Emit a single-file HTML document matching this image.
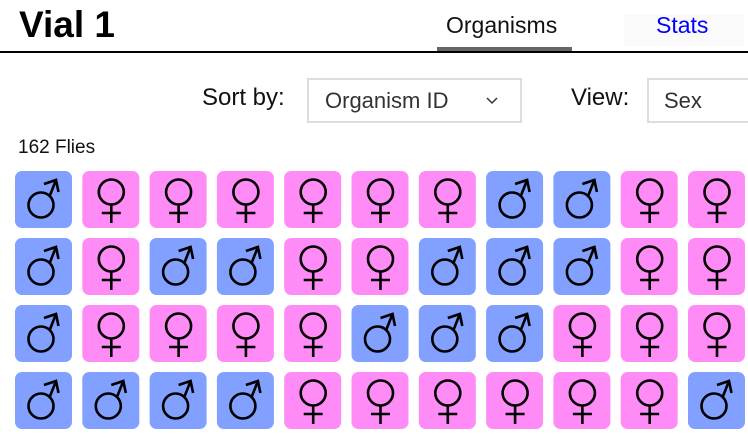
<!DOCTYPE html>
<html><head><meta charset="utf-8"><style>
body{margin:0;width:748px;height:438px;background:#fff;position:relative;overflow:hidden;font-family:"Liberation Sans",sans-serif}
.a{position:absolute;white-space:nowrap}
</style></head><body>
<div class="a" style="left:19px;top:4px;font-size:37px;font-weight:bold;color:#000">Vial 1</div>
<div class="a" style="left:624px;top:14px;width:120px;height:32px;background:#fafafa"></div>
<div class="a" style="left:446px;top:12px;font-size:23px;color:#111">Organisms</div>
<div class="a" style="left:656px;top:12px;font-size:23px;color:#0000ff">Stats</div>
<div class="a" style="left:437px;top:47px;width:135px;height:5px;background:#666"></div>
<div class="a" style="left:0;top:51px;width:748px;height:2px;background:#000"></div>
<div class="a" style="left:202px;top:84px;font-size:24px;color:#111">Sort by:</div>
<div class="a" style="left:307px;top:78px;width:211px;height:41px;border:2px solid #ddd"></div>
<div class="a" style="left:325px;top:88px;font-size:22px;color:#333">Organism ID</div>
<svg class="a" style="left:486px;top:96px" width="14" height="10"><polyline points="1,2 6,7 11,2" fill="none" stroke="#333" stroke-width="1.5"/></svg>
<div class="a" style="left:571px;top:84px;font-size:24px;color:#111">View:</div>
<div class="a" style="left:647px;top:78px;width:110px;height:41px;border:2px solid #ddd"></div>
<div class="a" style="left:664px;top:88px;font-size:22px;color:#333">Sex</div>
<div class="a" style="left:18px;top:137px;font-size:19px;color:#111">162 Flies</div>
<svg class="a" style="left:0;top:0" width="748" height="438" id="g"></svg>
<script>
var rows=["MFFFFFFMMFF","MFMMFFMMMFF","MFFFFMMMFFF","MMMMFFFFFFM"];
var ys=[171,238,305,372],s="";
for(var r=0;r<4;r++)for(var c=0;c<11;c++){
var x=15+c*67.3,y=ys[r],m=rows[r][c]=="M";
s+='<rect x="'+x+'" y="'+y+'" width="57" height="57" rx="7" fill="'+(m?'#82a0ff':'#ff8cf6')+'"/>';
s+='<g transform="translate('+x+','+y+')" fill="none" stroke="#000" stroke-width="2.6">';
if(m){s+='<circle cx="26" cy="34" r="12.5"/><line x1="34.5" y1="25.5" x2="41" y2="9"/><polyline points="29,13 41,9 43.5,21"/>';}
else{s+='<circle cx="29" cy="21" r="12.5"/><line x1="29" y1="33.5" x2="29" y2="52"/><line x1="19.5" y1="42" x2="38.5" y2="42"/>';}
s+='</g>';}
document.getElementById('g').innerHTML=s;
</script>
</body></html>
